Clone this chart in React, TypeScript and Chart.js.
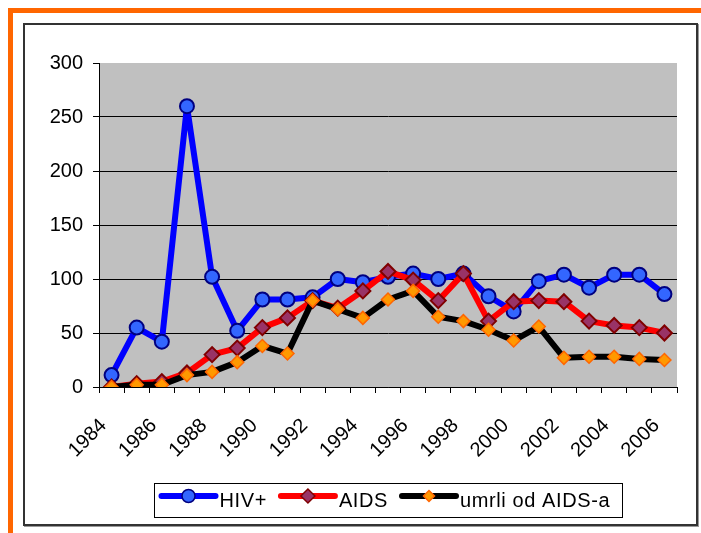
import React, { useEffect, useRef } from 'react';
import { Chart, registerables } from 'chart.js';

Chart.register(...registerables);

const years = [1984, 1985, 1986, 1987, 1988, 1989, 1990, 1991, 1992, 1993, 1994, 1995, 1996, 1997, 1998, 1999, 2000, 2001, 2002, 2003, 2004, 2005, 2006];
const hivValues = [11, 55, 42, 260, 102, 52, 81, 81, 83, 100, 97, 102, 105, 100, 105, 84, 70, 98, 104, 92, 104, 104, 86];
const aidsValues = [0, 3, 5, 13, 30, 36, 55, 64, 80, 73, 89, 107, 99, 80, 105, 61, 79, 80, 79, 61, 57, 55, 50];
const deathValues = [0, 2, 2, 11, 14, 23, 38, 31, 80, 72, 64, 81, 89, 65, 61, 53, 43, 56, 27, 28, 28, 26, 25];
const seriesNames = ['HIV+', 'AIDS', 'umrli od AIDS-a'];
const yMin = 0;
const yMax = 300;
const yStep = 50;

const FONT = '"Liberation Sans", Arial, sans-serif';

const seriesStyles = [
  { line: '#0000FF', fill: '#3366FF', border: '#000080', shape: 'circle', radius: 7, borderWidth: 2, legendRadius: 6.5 },
  { line: '#FF0000', fill: '#993366', border: '#800000', shape: 'rectRot', radius: 7.5, borderWidth: 2, legendRadius: 7 },
  { line: '#000000', fill: '#FF9900', border: '#FF6600', shape: 'rectRot', radius: 6.5, borderWidth: 1.5, legendRadius: 5.5 },
];

function drawMarker(ctx: CanvasRenderingContext2D, shape: string, x: number, y: number, r: number, fill: string, stroke: string, lw: number) {
  ctx.save();
  ctx.beginPath();
  if (shape === 'circle') {
    ctx.arc(x, y, r, 0, Math.PI * 2);
  } else {
    ctx.moveTo(x, y - r);
    ctx.lineTo(x + r, y);
    ctx.lineTo(x, y + r);
    ctx.lineTo(x - r, y);
    ctx.closePath();
  }
  ctx.fillStyle = fill;
  ctx.fill();
  ctx.lineWidth = lw;
  ctx.strokeStyle = stroke;
  ctx.stroke();
  ctx.restore();
}

const plotBackground = {
  id: 'plotBackground',
  beforeDraw(chart: any) {
    const { ctx, chartArea } = chart;
    ctx.save();
    ctx.fillStyle = '#C0C0C0';
    ctx.fillRect(chartArea.left, chartArea.top, chartArea.right - chartArea.left, chartArea.bottom - chartArea.top);
    ctx.restore();
  },
};

const boxedLegend = {
  id: 'boxedLegend',
  afterDraw(chart: any) {
    const { ctx } = chart;
    const boxLeft = 129.5;
    const boxTop = 458.5;
    const boxW = 468;
    const boxH = 34;
    ctx.save();
    ctx.strokeStyle = '#000';
    ctx.lineWidth = 1;
    ctx.strokeRect(boxLeft, boxTop, boxW, boxH);
    ctx.font = '20px ' + FONT;
    try {
      (ctx as any).letterSpacing = '0.6px';
    } catch (e) {
      /* ignore */
    }
    ctx.textBaseline = 'alphabetic';
    ctx.textAlign = 'left';
    let x = boxLeft + 4;
    const lineY = 471;
    const textY = 482;
    seriesNames.forEach((name, i) => {
      const s = seriesStyles[i];
      ctx.beginPath();
      ctx.lineWidth = 6;
      ctx.lineCap = 'round';
      ctx.strokeStyle = s.line;
      ctx.moveTo(x + 3, lineY);
      ctx.lineTo(x + 57, lineY);
      ctx.stroke();
      drawMarker(ctx, s.shape, x + 30, lineY, s.legendRadius, s.fill, s.border, 1.5);
      ctx.fillStyle = '#000';
      ctx.fillText(name, x + 61, textY);
      x = x + 61 + ctx.measureText(name).width + 11;
    });
    ctx.restore();
  },
};

export default function App() {
  const ref = useRef<HTMLCanvasElement>(null);

  useEffect(() => {
    const canvas = ref.current;
    if (!canvas) return;
    const valueSets = [hivValues, aidsValues, deathValues];
    const chart = new Chart(canvas, {
      type: 'line',
      data: {
        labels: years.map(String),
        datasets: valueSets.map((vals, i) => {
          const s = seriesStyles[i];
          return {
            label: seriesNames[i],
            data: vals,
            borderColor: s.line,
            backgroundColor: s.line,
            borderWidth: 6,
            borderJoinStyle: 'round',
            borderCapStyle: 'round',
            tension: 0,
            fill: false,
            pointStyle: s.shape,
            pointRadius: s.radius,
            pointBackgroundColor: s.fill,
            pointBorderColor: s.border,
            pointBorderWidth: s.borderWidth,
            order: 3 - i,
          } as any;
        }),
      },
      options: {
        responsive: false,
        animation: false,
        events: [],
        layout: { padding: { top: 38, right: 19, left: 0, bottom: 67 } },
        plugins: {
          legend: { display: false },
          tooltip: { enabled: false },
          title: { display: false },
        },
        scales: {
          x: {
            type: 'category',
            offset: true,
            grid: { offset: true, drawOnChartArea: false, tickLength: 6, color: '#000', lineWidth: 1 },
            border: { color: '#000', width: 1 },
            ticks: {
              autoSkip: false,
              maxRotation: 45,
              minRotation: 45,
              padding: 21,
              labelOffset: -8,
              color: '#000',
              font: { family: FONT, size: 20 },
              callback: (_v: any, i: number) => (i % 2 === 0 ? String(years[i]) : ''),
            },
            afterFit: (scale: any) => {
              scale.height = 70;
              scale.paddingLeft = 0;
              scale.paddingRight = 0;
            },
          },
          y: {
            min: yMin,
            max: yMax,
            ticks: {
              stepSize: yStep,
              padding: 10,
              color: '#000',
              font: { family: FONT, size: 20 },
            },
            grid: {
              color: (c: any) => (c.tick && c.tick.value === yMax ? 'rgba(0,0,0,0)' : '#000'),
              tickColor: '#000',
              tickLength: 6,
              lineWidth: 1,
            },
            border: { color: '#000', width: 1 },
            afterFit: (scale: any) => {
              scale.width = 74;
            },
          },
        },
      } as any,
      plugins: [plotBackground, boxedLegend],
    });
    return () => chart.destroy();
  }, []);

  return (
    <div style={{ position: 'absolute', left: 0, top: 0, width: 701, height: 533, overflow: 'hidden', background: '#fff' }}>
      <div
        style={{
          position: 'absolute',
          left: 8,
          top: 8,
          width: 688,
          height: 520,
          borderLeft: '5px solid #FF6600',
          borderTop: '5px solid #FF6600',
        }}
      />
      <div
        style={{
          position: 'absolute',
          left: 23,
          top: 23,
          width: 671,
          height: 499,
          border: '2px solid #333',
          boxShadow: '1px 1px 0 #999',
          background: '#fff',
        }}
      >
        <canvas ref={ref} width={671} height={499} style={{ display: 'block', width: 671, height: 499 }} />
      </div>
    </div>
  );
}
